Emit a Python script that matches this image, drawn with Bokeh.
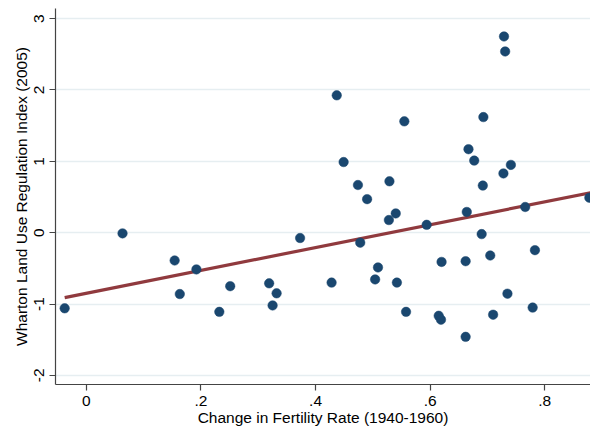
from bokeh.plotting import figure
from bokeh.models import FixedTicker, Range1d
from bokeh.embed import file_html
from bokeh.resources import INLINE

# Change in fertility rate (1940-1960) and Wharton index (2005)
fert_change = [-0.038, 0.063, 0.154, 0.163, 0.192, 0.232, 0.251, 0.319, 0.325, 0.332,
               0.373, 0.428, 0.437, 0.449, 0.474, 0.478, 0.490, 0.504, 0.509, 0.529,
               0.528, 0.540, 0.542, 0.558, 0.555, 0.594, 0.620, 0.615, 0.619, 0.662,
               0.662, 0.664, 0.667, 0.677, 0.692, 0.693, 0.690, 0.705, 0.710, 0.729,
               0.731, 0.728, 0.741, 0.735, 0.766, 0.783, 0.779, 0.878]
wharton = [-1.06, -0.01, -0.39, -0.86, -0.515, -1.11, -0.75, -0.71, -1.02, -0.85,
           -0.075, -0.70, 1.925, 0.99, 0.668, -0.14, 0.47, -0.655, -0.487, 0.72,
           0.177, 0.27, -0.70, -1.11, 1.56, 0.11, -0.41, -1.165, -1.22, -0.40,
           -1.46, 0.29, 1.17, 1.01, 0.66, 1.62, -0.02, -0.32, -1.15, 2.75,
           2.54, 0.83, 0.95, -0.855, 0.36, -0.245, -1.05, 0.49]

# Fitted line endpoints
fit_x = [-0.038, 0.88]
fit_y = [-0.91, 0.56]

x_ticks = [0, 0.2, 0.4, 0.6, 0.8]
x_tick_labels = ["0", ".2", ".4", ".6", ".8"]
y_ticks = [-2, -1, 0, 1, 2, 3]
y_tick_labels = ["-2", "-1", "0", "1", "2", "3"]

FONT = "Liberation Sans"
FS = "15.5px"

p = figure(width=590, height=428, output_backend="svg", toolbar_location=None,
           x_range=Range1d(-0.054, 0.880), y_range=Range1d(-2.128, 3.142),
           min_border_left=55, min_border_right=0, min_border_top=8,
           min_border_bottom=44)
p.outline_line_color = None
p.background_fill_color = "white"
p.border_fill_color = "white"

p.xgrid.grid_line_color = None
p.ygrid.grid_line_color = "#E6EEF1"
p.ygrid.grid_line_width = 1.5
p.ygrid.ticker = FixedTicker(ticks=y_ticks)

p.line(fit_x, fit_y, line_color="#903A3E", line_width=3.2)
p.scatter(fert_change, wharton, size=9.5, fill_color="#1A476F", line_color="#1A476F",
          line_width=0.5)

for ax in (p.xaxis[0], p.yaxis[0]):
    ax.axis_line_color = "#444444"
    ax.axis_line_width = 1.2
    ax.major_tick_line_color = "#444444"
    ax.major_tick_line_width = 1.2
    ax.major_tick_out = 6
    ax.major_tick_in = 0
    ax.minor_tick_line_color = None
    ax.major_label_text_font = FONT
    ax.major_label_text_font_size = FS
    ax.major_label_text_color = "black"
    ax.axis_label_text_font = FONT
    ax.axis_label_text_font_size = FS
    ax.axis_label_text_font_style = "normal"
    ax.axis_label_text_color = "black"

p.xaxis.ticker = FixedTicker(ticks=x_ticks)
p.xaxis.major_label_overrides = dict(zip(x_ticks, x_tick_labels))
p.xaxis.axis_label = "Change in Fertility Rate (1940-1960)"
p.xaxis.major_label_standoff = 5
p.xaxis.axis_label_standoff = 0

p.yaxis.ticker = FixedTicker(ticks=y_ticks)
p.yaxis.major_label_overrides = dict(zip(y_ticks, y_tick_labels))
p.yaxis.major_label_orientation = "vertical"
p.yaxis.axis_label = "Wharton Land Use Regulation Index (2005)"
p.yaxis.major_label_standoff = 5
p.yaxis.axis_label_standoff = 2

open("out.html", "w").write(file_html(p, INLINE))
